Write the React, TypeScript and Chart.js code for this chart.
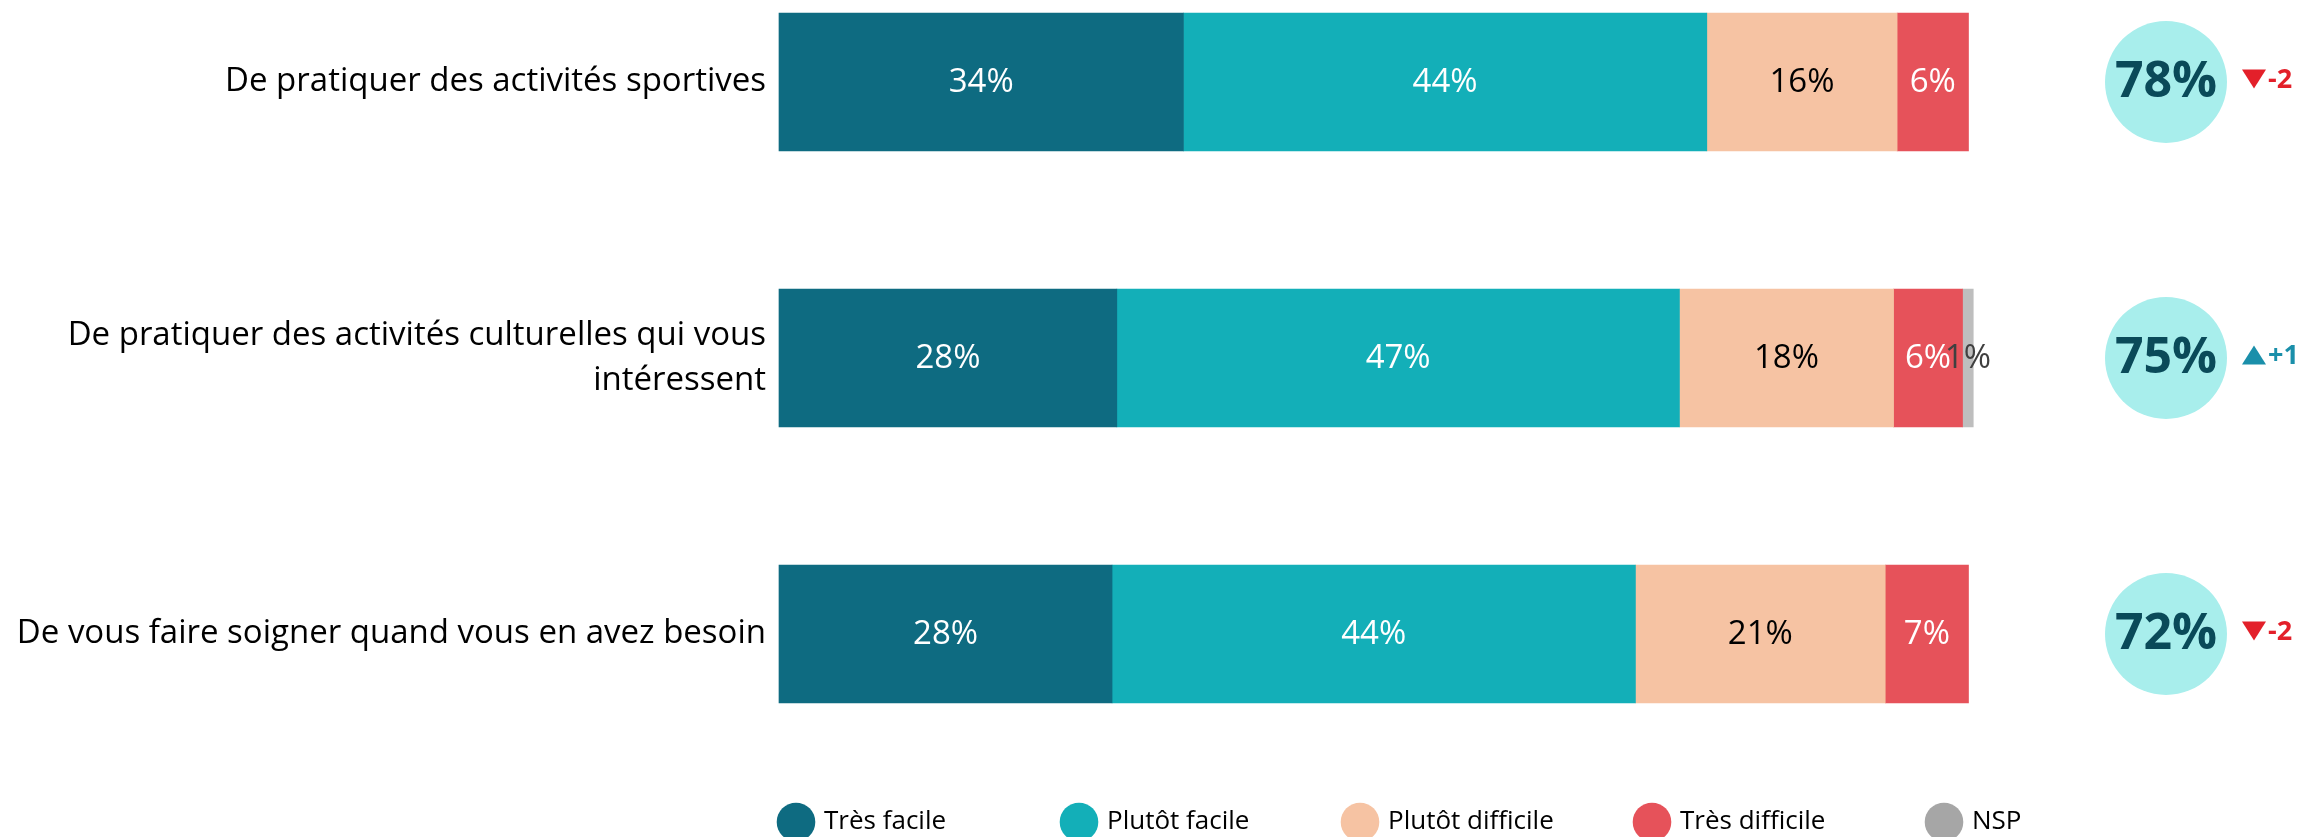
import React, { useEffect, useRef } from 'react';
import { Chart, registerables } from 'chart.js';

Chart.register(...registerables);

// ---------- data ----------
const categories: (string | string[])[] = [
  'De pratiquer des activités sportives',
  ['De pratiquer des activités culturelles qui vous', 'intéressent'],
  'De vous faire soigner quand vous en avez besoin',
];
const seriesNames = ['Très facile', 'Plutôt facile', 'Plutôt difficile', 'Très difficile', 'NSP'];
const tresFacile = [34, 28.4, 28];
const plutotFacile = [44, 47.3, 44];
const plutotDifficile = [16, 18, 21];
const tresDifficile = [6, 5.8, 7];
const nsp = [null, 0.9, null];
const totals = [78, 75, 72];
const deltas = [-2, 1, -2];

// ---------- styles ----------
const FONT = "'Open Sans', 'DejaVu Sans', sans-serif";
const barColors = ['#0E6B81', '#13AFB8', '#F6C3A3', '#E6525A', '#BEBEBE'];
const legendColors = ['#0E6B81', '#13AFB8', '#F6C3A3', '#E6525A', '#A6A6A6'];
const valueColors = ['#FFFFFF', '#FFFFFF', '#000000', '#FFFFFF', '#404040'];
const legendCenters = [796, 1079, 1360, 1652, 1944];

export default function App() {
  const ref = useRef<HTMLCanvasElement>(null);

  useEffect(() => {
    const canvas = ref.current as HTMLCanvasElement;
    const seriesValues = [tresFacile, plutotFacile, plutotDifficile, tresDifficile, nsp];

    const segLabels = {
      id: 'segLabels',
      afterDatasetsDraw(chart: any) {
        const ctx = chart.ctx;
        ctx.save();
        ctx.font = `33px ${FONT}`;
        ctx.textAlign = 'center';
        ctx.textBaseline = 'middle';
        chart.data.datasets.forEach((ds: any, di: number) => {
          const meta = chart.getDatasetMeta(di);
          meta.data.forEach((el: any, i: number) => {
            const v = ds.data[i];
            if (v == null || v === 0) return;
            const p = el.getProps(['x', 'y', 'base'], true);
            ctx.fillStyle = valueColors[di];
            ctx.fillText(`${Math.round(v)}%`, (p.x + p.base) / 2, p.y + 1);
          });
        });
        ctx.restore();
      },
    };

    const extras = {
      id: 'extras',
      afterDraw(chart: any) {
        const ctx = chart.ctx;
        const yScale = chart.scales.y;
        ctx.save();
        // total circles + deltas
        totals.forEach((t, i) => {
          const cy = yScale.getPixelForValue(i);
          const cx = 2166;
          ctx.beginPath();
          ctx.arc(cx, cy, 61, 0, Math.PI * 2);
          ctx.fillStyle = '#A8EEEC';
          ctx.fill();
          ctx.font = `bold 50px ${FONT}`;
          ctx.fillStyle = '#0A4A59';
          ctx.textAlign = 'center';
          ctx.textBaseline = 'middle';
          ctx.fillText(`${t}%`, cx, cy + 1);

          const d = deltas[i];
          const up = d > 0;
          const col = up ? '#1A8FAA' : '#E3202A';
          const tx = 2242, tw = 24, th = 19;
          const ty = cy - 3;
          ctx.beginPath();
          if (up) {
            ctx.moveTo(tx, ty + th / 2);
            ctx.lineTo(tx + tw, ty + th / 2);
            ctx.lineTo(tx + tw / 2, ty - th / 2);
          } else {
            ctx.moveTo(tx, ty - th / 2);
            ctx.lineTo(tx + tw, ty - th / 2);
            ctx.lineTo(tx + tw / 2, ty + th / 2);
          }
          ctx.closePath();
          ctx.fillStyle = col;
          ctx.fill();
          ctx.font = `bold 27px ${FONT}`;
          ctx.textAlign = 'left';
          ctx.fillText(up ? `+${d}` : `${d}`, 2268, cy - 2);
        });
        // legend
        ctx.font = `26px ${FONT}`;
        ctx.textAlign = 'left';
        ctx.textBaseline = 'middle';
        seriesNames.forEach((name, i) => {
          const cx = legendCenters[i];
          const cy = 822;
          ctx.beginPath();
          ctx.arc(cx, cy, 19.3, 0, Math.PI * 2);
          ctx.fillStyle = legendColors[i];
          ctx.fill();
          ctx.fillStyle = '#000000';
          ctx.fillText(name, cx + 28, cy);
        });
        ctx.restore();
      },
    };

    const chart = new Chart(canvas, {
      type: 'bar',
      data: {
        labels: categories as any,
        datasets: seriesNames.map((name, i) => ({
          label: name,
          data: seriesValues[i] as any,
          backgroundColor: barColors[i],
          borderWidth: 0,
          barThickness: 138,
          clip: false as any,
        })),
      },
      options: {
        indexAxis: 'y',
        responsive: false,
        devicePixelRatio: 1,
        animation: false,
        events: [],
        layout: { padding: { top: 82, bottom: 203, left: 0, right: 331.5 } },
        plugins: {
          legend: { display: false },
          tooltip: { enabled: false },
          title: { display: false },
        },
        scales: {
          x: { stacked: true, min: 0, max: 100, display: false },
          y: {
            stacked: true,
            offset: false,
            grid: { display: false, drawTicks: false },
            border: { display: false },
            ticks: {
              autoSkip: false,
              padding: 13,
              color: '#000000',
              font: { family: FONT, size: 33, lineHeight: 1.36 },
            },
            afterFit(scale: any) {
              scale.width = 779;
            },
          },
        },
      },
      plugins: [segLabels, extras],
    });

    return () => chart.destroy();
  }, []);

  return (
    <div style={{ position: 'absolute', left: 0, top: 0, width: 2300, height: 837, background: '#ffffff' }}>
      <canvas ref={ref} width={2300} height={837} style={{ display: 'block', width: '2300px', height: '837px' }} />
    </div>
  );
}
